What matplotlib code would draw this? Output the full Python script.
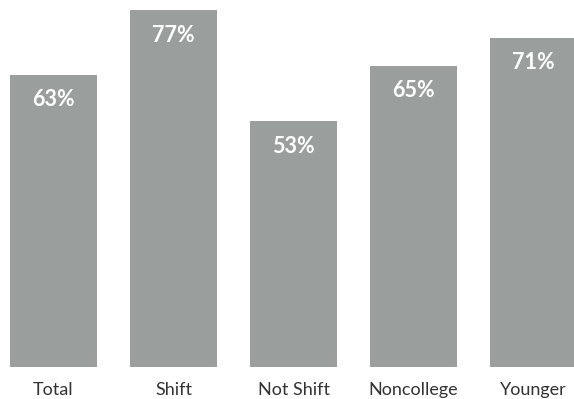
import matplotlib
matplotlib.use("Agg")
import matplotlib.pyplot as plt

categories = ["Total", "Shift", "Not Shift", "Noncollege", "Younger"]
values = [63, 77, 53, 65, 71]
value_labels = ["63%", "77%", "53%", "65%", "71%"]

W, H, DPI = 574, 399, 100
fig = plt.figure(figsize=(W / DPI, H / DPI), dpi=DPI)
fig.patch.set_facecolor("white")

base_px = 32  # baseline from bottom
ax = fig.add_axes([0, base_px / H, 1, (H - base_px) / H])
ppu = 4.636  # px per percent
x = list(range(len(categories)))
ax.bar(x, values, width=0.725, color="#9a9f9e", clip_on=False)
ax.set_xlim(-53.5 / 120, (W - 53.5) / 120)
ax.set_ylim(0, (H - base_px) / ppu)

for xi, v, lab in zip(x, values, value_labels):
    ax.text(xi, v - 25 / ppu, lab, ha="center", va="center", color="white",
            fontsize=15.5, fontweight="bold", family=["Lato", "DejaVu Sans"])

ax.set_xticks(x)
ax.set_xticklabels(categories, fontsize=13, color="#333333", family=["Lato", "DejaVu Sans"])
ax.tick_params(axis="x", length=0, pad=11)
ax.set_yticks([])
for s in ax.spines.values():
    s.set_visible(False)
ax.patch.set_alpha(0)

fig.savefig("out.png", dpi=DPI, facecolor="white")
